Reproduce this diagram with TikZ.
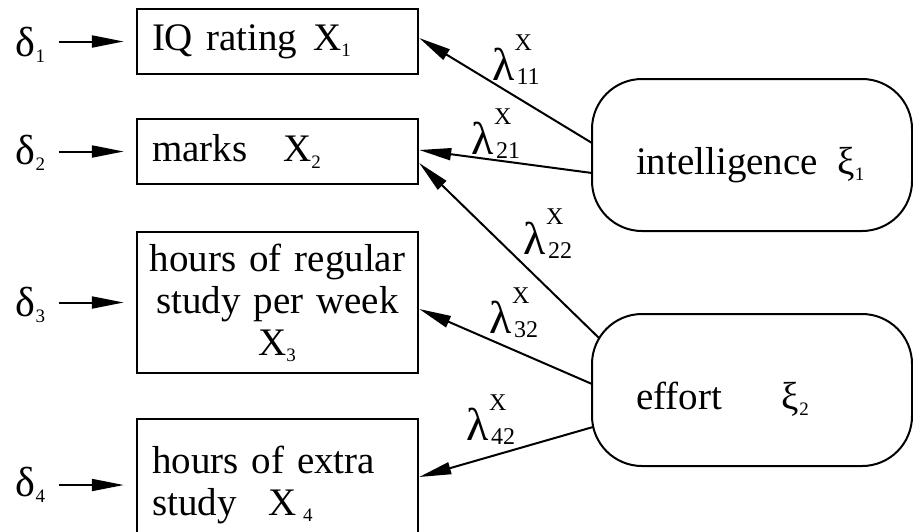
\documentclass[tikz,border=0pt]{standalone}
\usepackage{fontspec}
\setmainfont{Liberation Serif}
\usepackage{tikz}
\usetikzlibrary{arrows.meta, positioning}

\newcommand{\idx}[1]{$_{\mbox{\fontsize{9.5}{9.5}\selectfont #1}}$}
\newcommand{\lamx}[1]{{\fontsize{23}{23}\selectfont λ}\rlap{\raisebox{15pt}{\fontsize{12}{12}\selectfont X}}\kern1pt\raisebox{-2pt}{\fontsize{12}{12}\selectfont #1}}

\begin{document}
\begin{tikzpicture}[
  x=0.5pt, y=-0.5pt,
  every node/.style={font=\fontsize{19.5}{21}\selectfont},
  obs/.style={draw, line width=1.2pt, minimum width=140.5pt, inner xsep=7.5pt, inner ysep=0pt, text width=125.5pt, align=left},
  latent/.style={draw, line width=1pt, rounded corners=25pt, minimum width=160pt, minimum height=76pt, inner xsep=0pt, text width=116pt, align=left, text height=19pt, text depth=0pt},
  err/.style={inner sep=0pt, font=\fontsize{21}{21}\selectfont},
  lab/.style={inner sep=0pt},
  arr/.style={-{Triangle[length=16pt, width=6pt]}, line width=1pt}
]
  \useasboundingbox (0,0) rectangle (913,531);

  % Indicators
  \node[obs, minimum height=32.5pt] (b1) at (277.5,41.5) {IQ rating\hspace{8pt}X\idx{1}};
  \node[obs, minimum height=32.5pt] (b2) at (277.5,151.5) {marks\hspace{18pt}X\idx{2}};
  \node[obs, minimum height=70.5pt, inner xsep=5.25pt, text width=130pt, align=center] (b3) at (277.5,302.5) {hours of regular\\study per week\\X\idx{3}};
  \node[obs, minimum height=66pt] (b4) at (277.5,485) {hours of extra\\study\hspace{16pt}X\,\idx{4}};

  % Latent variables
  \node[latent] (intel) at (752,155) {intelligence\enspace ξ\idx{1}};
  \node[latent] (effort) at (752,390) {effort\hspace{30pt}ξ\idx{2}};

  % Errors
  \foreach \i/\y in {1/45,2/153,3/305,4/485} {
    \node[err] (d\i) at (31,\y) {δ\idx{\i}};
    \draw[arr, shorten <=6pt, shorten >=6pt] (d\i.east |- b\i.west) -- (b\i.west);
  }

  % Loadings
  \draw[arr] ([shift={(-160,-12)}]intel.center) -- ([shift={(0,-3.5)}]b1.east);
  \draw[arr] ([shift={(-160,18)}]intel.center) -- ([shift={(0,-1.5)}]b2.east);
  \draw[arr] ([shift={(-153,-52)}]effort.center) -- ([shift={(0,11.5)}]b2.east);
  \draw[arr] ([shift={(-160,-6)}]effort.center) -- ([shift={(0,6.5)}]b3.east);
  \draw[arr] ([shift={(-159,37)}]effort.center) -- ([shift={(0,-8)}]b4.east);

  \node[lab] (l11) at (516,60) {\lamx{11}};
  \node[lab] (l21) at (496,134) {\lamx{21}};
  \node[lab] (l22) at (548,234) {\lamx{22}};
  \node[lab] (l32) at (514,313) {\lamx{32}};
  \node[lab] (l42) at (491,420) {\lamx{42}};
\end{tikzpicture}
\end{document}
